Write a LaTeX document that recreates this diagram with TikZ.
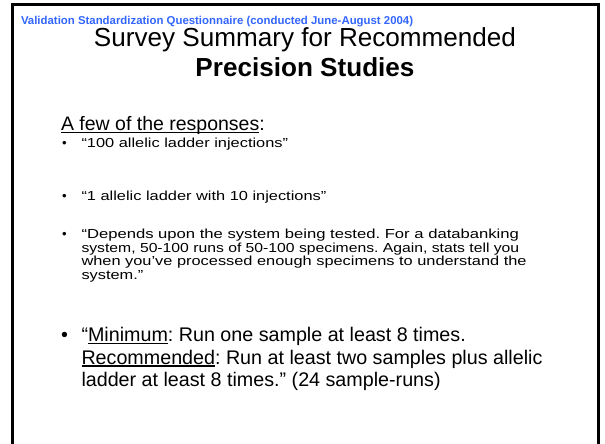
\documentclass[tikz,border=0pt]{standalone}
\usepackage{fontspec}
\setmainfont{Liberation Sans}
\frenchspacing
\definecolor{hdrblue}{RGB}{51,102,255}
\newcommand{\myul}[1]{\setbox0\hbox{#1}\rlap{\rule[-0.15em]{\wd0}{0.09em}}\box0}
\newcommand{\wide}[2][1.25]{\scalebox{#1}[1]{#2}}
\begin{document}
\begin{tikzpicture}[x=1pt,y=-1pt,
  txt/.style={inner sep=0pt, outer sep=0pt, anchor=base west},
  small/.style={txt, font=\fontsize{13.1}{15}\selectfont},
  big/.style={txt, font=\fontsize{19.7}{23}\selectfont},
  ttl/.style={inner sep=0pt, outer sep=0pt, anchor=base, font=\fontsize{26.1}{30}\selectfont}]
\useasboundingbox (0,0) rectangle (605,444);
\fill[white] (0,0) rectangle (605,444);
\draw[line width=3pt] (12.5,460) -- (12.5,5) -- (598,5) -- (598,460);
\node[txt, font=\fontsize{11.4}{13}\selectfont\bfseries, text=hdrblue] (hdr) at (21,24.5) {Validation Standardization Questionnaire (conducted June-August 2004)};
\node[ttl] (t1) at (305,47) {Survey Summary for Recommended};
\node[ttl, font=\fontsize{26.1}{30}\selectfont\bfseries] (t2) at (305,77) {Precision Studies};
\node[txt, font=\fontsize{19.5}{23}\selectfont] (hd) at (61,130.5) {\myul{A few of the responses}:};
\node[small] (d1) at (62,147) {•};
\node[small] (b1) at (81.5,147) {\wide{“100 allelic ladder injections”}};
\node[small] (d2) at (62,200) {•};
\node[small] (b2) at (81.5,200) {\wide{“1 allelic ladder with 10 injections”}};
\node[small] (d3) at (62,238.5) {•};
\node[small] (b3a) at (81.5,238.5) {\wide[1.27]{“Depends upon the system being tested. For a databanking}};
\node[small] (b3b) at (81.5,252) {\wide[1.2]{system, 50-100 runs of 50-100 specimens. Again, stats tell you}};
\node[small] (b3c) at (81.5,265.5) {\wide[1.25]{when you’ve processed enough specimens to understand the}};
\node[small] (b3d) at (81.5,279) {\wide{system.”}};
\node[big] (d4) at (61,341.5) {•};
\node[big] (b4a) at (81.5,341.5) {“\myul{Minimum}: Run one sample at least 8 times.};
\node[big] (b4b) at (81.5,364) {\myul{Recommended}: Run at least two samples plus allelic};
\node[big] (b4c) at (81.5,386.5) {ladder at least 8 times.” (24 sample-runs)};
\end{tikzpicture}
\end{document}
